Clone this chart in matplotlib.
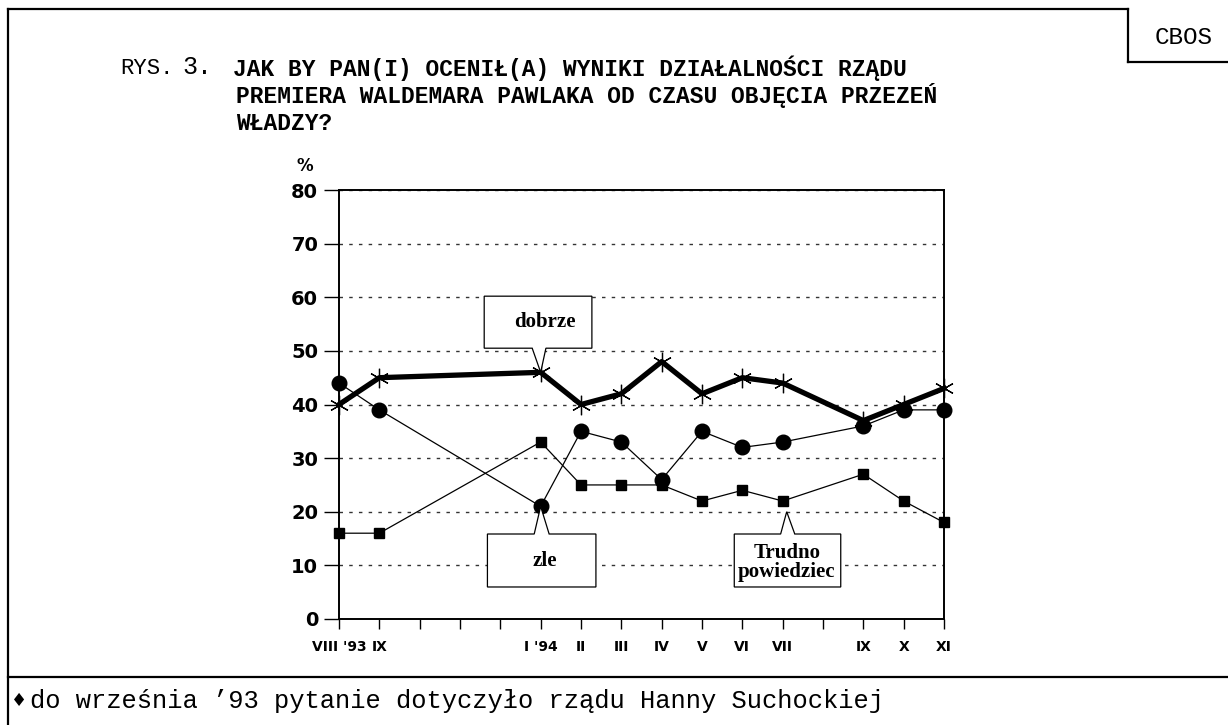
import matplotlib.pyplot as plt
from matplotlib.lines import Line2D
from matplotlib.patches import Polygon

# months VIII'93 .. XI'94 (16 slots), survey waves only at some of them
month_labels = ["VIII '93", "IX", "", "", "", "I '94", "II", "III", "IV", "V",
                "VI", "VII", "", "IX", "X", "XI"]
survey_pos = [0, 1, 5, 6, 7, 8, 9, 10, 11, 13, 14, 15]

dobrze = [40, 45, 46, 40, 42, 48, 42, 45, 44, 37, 40, 43]
zle = [44, 39, 21, 35, 33, 26, 35, 32, 33, 36, 39, 39]
trudno = [16, 16, 33, 25, 25, 25, 22, 24, 22, 27, 22, 18]

W, H = 1228, 725
fig = plt.figure(figsize=(W / 100, H / 100), dpi=100)


def fx(px):
    return px / W


def fy(py):
    return 1 - py / H


# page frame
frame = dict(color='black', lw=1.6, transform=fig.transFigure)
fig.add_artist(Line2D([fx(8), fx(8)], [fy(9), fy(725)], **frame))
fig.add_artist(Line2D([fx(8), fx(1128)], [fy(9), fy(9)], **frame))
fig.add_artist(Line2D([fx(1128), fx(1128)], [fy(9), fy(62)], **frame))
fig.add_artist(Line2D([fx(1128), fx(1228)], [fy(62), fy(62)], **frame))
fig.add_artist(Line2D([fx(8), fx(1228)], [fy(677), fy(677)], **frame))

fig.text(fx(1184), fy(37), "CBOS", family='Liberation Mono', fontsize=17.5,
         ha='center', va='center')

# title
fig.text(fx(120), fy(68), "RYS.", family='Liberation Mono', fontsize=16,
         ha='left', va='center')
fig.text(fx(182), fy(67), "3.", family='Liberation Mono', fontsize=18,
         ha='left', va='center')
title_lines = ["JAK BY PAN(I) OCENIŁ(A) WYNIKI DZIAŁALNOŚCI RZĄDU",
               "PREMIERA WALDEMARA PAWLAKA OD CZASU OBJĘCIA PRZEZEŃ",
               "WŁADZY?"]
title_x = [233, 236, 236]
for i, line in enumerate(title_lines):
    fig.text(fx(title_x[i]), fy(68 + 27.5 * i), line, family='Liberation Mono',
             fontweight='bold', fontsize=16.5, ha='left', va='center')

# footnote
fig.text(fx(11), fy(701), "♦", family='DejaVu Sans', fontsize=13,
         ha='left', va='center')
fig.text(fx(30), fy(701), "do września ’93 pytanie dotyczyło rządu Hanny Suchockiej",
         family='Liberation Mono', fontsize=18.4, ha='left', va='center')

# chart
ax = fig.add_axes([fx(339), fy(619), fx(944) - fx(339), fy(190) - fy(619)])
ax.set_xlim(0, 15)
ax.set_ylim(0, 80)

ax.plot(survey_pos, dobrze, color='black', lw=3.8, marker=(6, 2, 0),
        markersize=14, markeredgewidth=0.9, zorder=3, clip_on=False)
ax.plot(survey_pos, zle, color='black', lw=0.9, marker='o', markersize=10.5,
        zorder=4, clip_on=False)
ax.plot(survey_pos, trudno, color='black', lw=0.9, marker='s', markersize=6.5,
        zorder=4, clip_on=False)

ax.set_yticks(range(0, 81, 10))
ax.set_xticks(range(16))
ax.set_xticklabels(month_labels)
ax.grid(axis='y', color='#333333', linestyle=(0, (2.5, 4.5)), lw=1.0)
ax.set_axisbelow(True)
for s in ax.spines.values():
    s.set_linewidth(1.4)
ax.tick_params(axis='y', direction='out', length=11, width=1, pad=4,
               labelsize=14)
ax.tick_params(axis='x', direction='out', length=7, width=1, pad=8,
               labelsize=10)
for lab in ax.get_yticklabels():
    lab.set_fontweight('bold')
    lab.set_family('DejaVu Sans')
for lab in ax.get_xticklabels():
    lab.set_fontweight('bold')
    lab.set_family('Liberation Sans Narrow')

ax.text(-0.85, 84.5, "%", fontsize=12, fontweight='bold', ha='center',
        va='center', family='DejaVu Sans')


def callout(x0, x1, y0, y1, b0, b1, tip, text, tx, ty, top_pointer):
    if top_pointer:
        pts = [(x0, y0), (b0, y0), tip, (b1, y0), (x1, y0), (x1, y1), (x0, y1)]
    else:
        pts = [(x0, y1), (x1, y1), (x1, y0), (b1, y0), tip, (b0, y0), (x0, y0)]
    ax.add_patch(Polygon(pts, closed=True, facecolor='white', edgecolor='black',
                         lw=0.9, zorder=6, clip_on=False))
    ax.text(tx, ty, text, family='Liberation Serif', fontweight='bold',
            fontsize=15, ha='center', va='center', zorder=7,
            linespacing=0.9)


# dobrze box (pointer down to I '94)
callout(3.6, 6.27, 50.5, 60.2, 4.79, 5.13, (5.0, 46), "dobrze", 5.1, 55.3, False)
# zle box (pointer up to I '94)
callout(3.68, 6.37, 15.85, 5.97, 4.84, 5.21, (5.0, 21), "zle", 5.1, 10.8, True)
# trudno box
callout(9.8, 12.44, 15.85, 5.97, 10.95, 11.3, (11.1, 20), "Trudno\npowiedziec",
        11.1, 10.5, True)

fig.savefig("out.png", dpi=100)
